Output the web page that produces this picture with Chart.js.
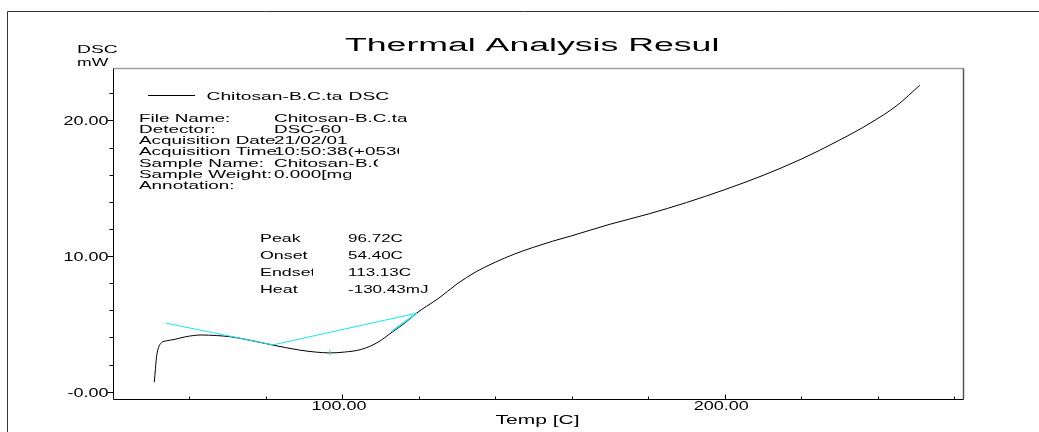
<!DOCTYPE html>
<html><head><meta charset="utf-8">
<script src="https://cdn.jsdelivr.net/npm/chart.js@4.4.1/dist/chart.umd.min.js"></script>
<style>html,body{margin:0;padding:0;background:#fff;}#wrap{width:1039px;height:432px;position:relative;}</style>
</head><body><div id="wrap"><canvas id="c"></canvas></div>
<script>
// ---- data ----
const chartTitle = "Thermal Analysis Resul";
const yAxisTitle = ["DSC", "mW"];
const xAxisTitle = "Temp [C]";
const tempC = [50.8, 51.1, 51.4, 51.9, 52.7, 54, 56, 59, 63, 67, 71, 76, 81.6, 88.5, 93, 96.7, 100.5, 105, 109, 113.2, 116.5, 119.4, 122, 125, 130, 135, 140, 145, 150, 155, 160, 170, 180, 190, 200, 210, 220, 230, 238, 245, 251];
const dscMW = [0.7, 1.7, 2.6, 3.25, 3.62, 3.75, 3.85, 4.05, 4.18, 4.14, 4.04, 3.78, 3.45, 3.08, 2.92, 2.86, 2.92, 3.12, 3.6, 4.43, 5.1, 5.79, 6.3, 6.85, 7.95, 8.85, 9.55, 10.15, 10.65, 11.1, 11.5, 12.35, 13.1, 13.95, 14.9, 15.95, 17.15, 18.55, 19.8, 21.1, 22.6];
const base1T = [53.9, 81.8];   const base1V = [5.05, 3.45];
const base2T = [81.8, 119.4];  const base2V = [3.45, 5.79];
const tangT = [112.8, 119.4];  const tangV = [4.43, 5.79];
const peakMarkT = [96.72, 96.72]; const peakMarkV = [2.7, 3.1];
const xMin = 40, xMax = 262.3, yMin = -0.54, yMax = 23.87;
const yMajorTicks = [0, 10, 20];
const yTickLabels = ["-0.00", "10.00", "20.00"];
const yMinorTicks = [0, 2, 4, 6, 8, 10, 12, 14, 16, 18, 20, 22];
const xMajorTicks = [100, 200];
const xTickLabels = ["100.00", "200.00"];
const xMinorTicks = [60, 80, 100, 120, 140, 160, 180, 200, 220, 240, 260];
const legendName = "Chitosan-B.C.tad";
const legendSuffix = "DSC";
const infoLabels = ["File Name:", "Detector:", "Acquisition Date", "Acquisition Time", "Sample Name:", "Sample Weight:", "Annotation:"];
const infoValues = ["Chitosan-B.C.tad", "DSC-60", "21/02/01", "10:50:38(+0530)", "Chitosan-B.C.tad", "0.000[mg]", ""];
const peakLabels = ["Peak", "Onset", "Endset", "Heat"];
const peakValues = ["96.72C", "54.40C", "113.13C", "-130.43mJ"];

function pts(xs, ys) { return xs.map((x, i) => ({x: x, y: ys[i]})); }
const FONT = '"Liberation Sans", Arial, Helvetica, sans-serif';
function sText(ctx, txt, x, y, size, sx, align, clipRight) {
  ctx.save();
  ctx.font = size + 'px ' + FONT;
  ctx.fillStyle = '#000';
  ctx.textBaseline = 'alphabetic';
  ctx.textAlign = 'left';
  const w = ctx.measureText(txt).width * sx;
  let x0 = x;
  if (align === 'center') x0 = x - w / 2; else if (align === 'right') x0 = x - w;
  if (clipRight) { ctx.beginPath(); ctx.rect(x0 - 3, y - size * 1.5, clipRight - (x0 - 3), size * 2.5); ctx.clip(); }
  ctx.translate(x0, y); ctx.scale(sx, 1); ctx.fillText(txt, 0, 0);
  ctx.restore();
}
function line(ctx, x1, y1, x2, y2, col, lw) {
  ctx.save(); ctx.strokeStyle = col; ctx.lineWidth = lw;
  ctx.beginPath(); ctx.moveTo(x1, y1); ctx.lineTo(x2, y2); ctx.stroke(); ctx.restore();
}

const decor = {
  id: 'decor',
  beforeDatasetsDraw(chart) {
    const ctx = chart.ctx, a = chart.chartArea, xs = chart.scales.x, ys = chart.scales.y;
    const L = Math.round(a.left) + 0.5, R = Math.round(a.right) + 0.5, T = Math.round(a.top) + 0.5, B = Math.round(a.bottom) + 0.5;
    line(ctx, 7.5, 432, 7.5, 11.5, '#333', 1);
    line(ctx, 7.5, 11.5, 1039, 11.5, '#333', 1);
    line(ctx, L, T, R, T, '#a0a0a0', 1.5);
    line(ctx, R, T, R, B, '#555', 1.5);
    line(ctx, L, T, L, B, '#000', 1);
    line(ctx, L, B, R, B, '#000', 1.2);
    yMinorTicks.forEach(v => {
      const y = Math.round(ys.getPixelForValue(v)) + 0.5;
      const len = yMajorTicks.includes(v) ? 6 : 4;
      line(ctx, L - len, y, L, y, '#000', 1);
    });
    xMinorTicks.forEach(t => {
      const x = Math.round(xs.getPixelForValue(t)) + 0.5;
      const len = xMajorTicks.includes(t) ? 5 : 3;
      line(ctx, x, B, x, B - len, '#000', 1);
    });
  },
  afterDraw(chart) {
    const ctx = chart.ctx, a = chart.chartArea, xs = chart.scales.x, ys = chart.scales.y;
    sText(ctx, chartTitle, 345, 51, 18, 1.98, 'left');
    sText(ctx, yAxisTitle[0], 77, 52.5, 11, 1.75, 'left');
    sText(ctx, yAxisTitle[1], 77, 65.5, 11, 1.6, 'left');
    yMajorTicks.forEach((v, i) => {
      sText(ctx, yTickLabels[i], a.left - 4.5, ys.getPixelForValue(v) + 5, 12, 1.5, 'right');
    });
    xMajorTicks.forEach((t, i) => {
      sText(ctx, xTickLabels[i], xs.getPixelForValue(t) - 3.5, 410, 12, 1.5, 'center');
    });
    sText(ctx, xAxisTitle, 537.5, 424, 12, 1.75, 'center');
    line(ctx, 148, 95.5, 195, 95.5, '#000', 1);
    sText(ctx, legendName, 206.5, 99.5, 11, 1.75, 'left', 343);
    sText(ctx, legendSuffix, 348.5, 99.5, 11, 1.75, 'left');
    const clips = [407, null, null, 399, 378, 351, null];
    infoLabels.forEach((lab, i) => {
      const y = 121.5 + i * 11.3;
      sText(ctx, lab, 139, y, 10.5, 1.8, 'left');
      if (infoValues[i]) sText(ctx, infoValues[i], 274, y, 10.5, 1.8, 'left', clips[i]);
    });
    const pys = [242, 259, 276, 292.5];
    peakLabels.forEach((lab, i) => {
      sText(ctx, lab, 260, pys[i], 11.5, 1.55, 'left', 313);
      sText(ctx, peakValues[i], 348, pys[i], 11.5, 1.48, 'left');
    });
  }
};

const cyan = '#19e3ee';
new Chart(document.getElementById('c'), {
  type: 'scatter',
  data: {
    datasets: [
      {data: pts(tempC, dscMW), showLine: true, borderColor: '#000', borderWidth: 1, pointRadius: 0, cubicInterpolationMode: 'monotone', order: 1},
      {data: pts(base1T, base1V), showLine: true, borderColor: cyan, borderWidth: 1, pointRadius: 0, order: 0},
      {data: pts(base2T, base2V), showLine: true, borderColor: cyan, borderWidth: 1, pointRadius: 0, order: 0},
      {data: pts(tangT, tangV), showLine: true, borderColor: cyan, borderWidth: 1.3, pointRadius: 0, order: 0},
      {data: pts(peakMarkT, peakMarkV), showLine: true, borderColor: cyan, borderWidth: 1, pointRadius: 0, order: 0}
    ]
  },
  options: {
    responsive: true, maintainAspectRatio: false, animation: false,
    layout: {padding: {left: 113, right: 76, top: 68, bottom: 33}},
    scales: {
      x: {type: 'linear', min: xMin, max: xMax, display: false},
      y: {type: 'linear', min: yMin, max: yMax, display: false}
    },
    plugins: {legend: {display: false}, tooltip: {enabled: false}}
  },
  plugins: [decor]
});
</script></body></html>
